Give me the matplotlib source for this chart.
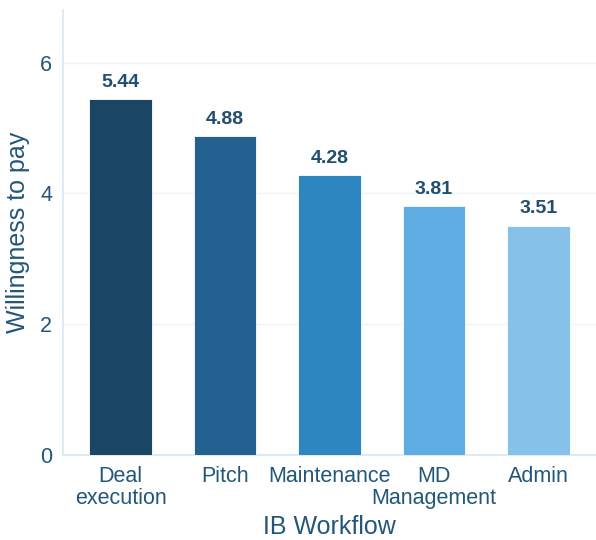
import matplotlib
matplotlib.use("Agg")
import matplotlib.pyplot as plt

plt.rcParams['font.family'] = ['Liberation Sans', 'DejaVu Sans']

workflows = ["Deal\nexecution", "Pitch", "Maintenance", "MD\nManagement", "Admin"]
wtp = [5.44, 4.88, 4.28, 3.81, 3.51]
colors = ["#1a4563", "#236190", "#2e86c1", "#5dade2", "#85c1e9"]

txt = "#22577a"

fig = plt.figure(figsize=(5.96, 5.40), dpi=100)
ax = fig.add_axes([0.106, 0.157, 0.894, 0.824])

x = range(len(wtp))
bars = ax.bar(x, wtp, width=0.6, color=colors, edgecolor="white", linewidth=0.6, zorder=3)

# value labels above bars
for xi, v in zip(x, wtp):
    ax.annotate(f"{v:.2f}", (xi, v), xytext=(0, 6), textcoords="offset points",
                ha="center", va="bottom", fontsize=14, fontweight="bold", color="#1f4e6e")

ax.set_xlim(-0.55, 4.55)
ax.set_ylim(0, 6.8)
ax.set_yticks([0, 2, 4, 6])
ax.set_xticks(list(x))
ax.set_xticklabels(workflows, linespacing=1.05)
ax.tick_params(axis="both", length=0, labelsize=15.5, labelcolor=txt, pad=8)
ax.set_xlabel("IB Workflow", fontsize=18, color=txt, labelpad=4)
ax.set_ylabel("Willingness to pay", fontsize=18, color=txt, labelpad=7)

ax.grid(axis="y", color="#eef4f9", lw=1, zorder=0)
for side in ["top", "right"]:
    ax.spines[side].set_visible(False)
for side in ["left", "bottom"]:
    ax.spines[side].set_color("#d8e7f3")
    ax.spines[side].set_linewidth(1.2)

fig.savefig("out.png", dpi=100)
